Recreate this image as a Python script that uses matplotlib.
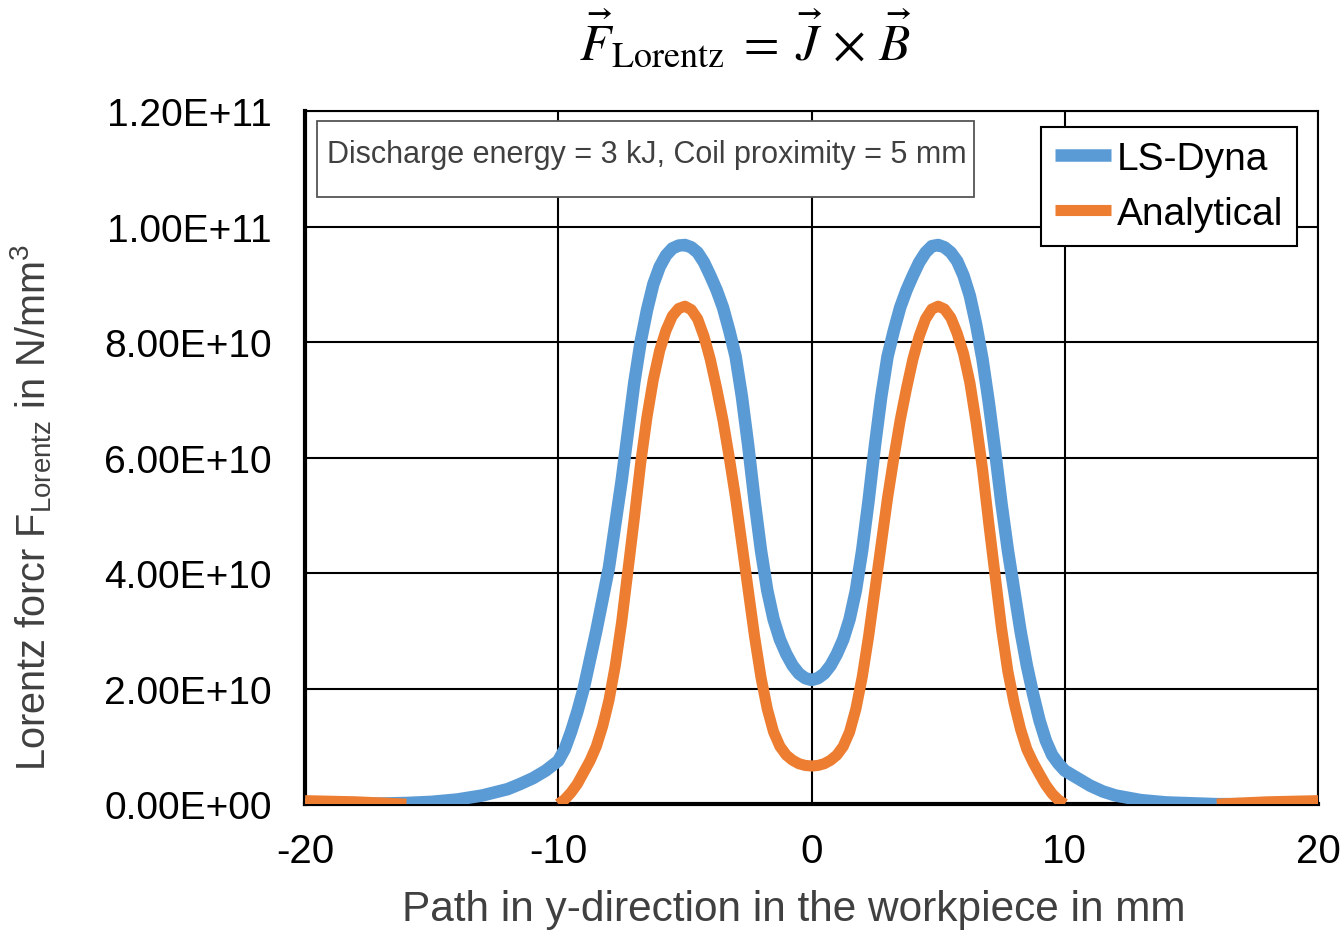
import numpy as np
import matplotlib
matplotlib.use("Agg")
import matplotlib.pyplot as plt
from matplotlib.patches import Rectangle
from matplotlib.ticker import FuncFormatter

plt.rcParams['font.family'] = ['Liberation Sans', 'DejaVu Sans']
plt.rcParams['axes.unicode_minus'] = False

# LS-Dyna curve, force in 1e10 N/mm^3
ls_x = [-20, -18, -16, -15, -14, -13, -12, -11.5, -11, -10.5, -10, -9.75, -9.5, -9.25, -9, -8.75,
        -8.5, -8.25, -8, -7.75, -7.5, -7.25, -7, -6.75, -6.5, -6.25, -6, -5.75, -5.5, -5.25, -5,
        -4.75, -4.5, -4.25, -4, -3.75, -3.5, -3.25, -3, -2.75, -2.5, -2.25, -2, -1.75, -1.5, -1.25,
        -1, -0.75, -0.5, -0.25, 0,
        0.25, 0.5, 0.75, 1, 1.25, 1.5, 1.75, 2, 2.25, 2.5, 2.75, 3, 3.25, 3.5, 3.75, 4, 4.25,
        4.5, 4.75, 5, 5.25, 5.5, 5.75, 6, 6.25, 6.5, 6.75, 7, 7.25, 7.5, 7.75, 8, 8.25, 8.5,
        8.75, 9, 9.25, 9.5, 9.75, 10, 10.5, 11, 11.5, 12, 13, 14, 16, 18, 20]
ls_y = [0.0, 0.0, 0.02, 0.04, 0.08, 0.15, 0.26, 0.35, 0.45, 0.58, 0.75, 0.95, 1.25, 1.6, 2.0, 2.5,
        3.0, 3.55, 4.1, 4.85, 5.6, 6.45, 7.3, 8.0, 8.55, 9.0, 9.3, 9.5, 9.62, 9.67, 9.68,
        9.64, 9.55, 9.38, 9.15, 8.9, 8.6, 8.2, 7.75, 7.05, 6.2, 5.25, 4.4, 3.7, 3.2, 2.85,
        2.6, 2.4, 2.26, 2.18, 2.15,
        2.18, 2.26, 2.4, 2.6, 2.85, 3.2, 3.7, 4.4, 5.25, 6.2, 7.05, 7.75, 8.2, 8.6, 8.9, 9.15, 9.38,
        9.55, 9.66, 9.68, 9.64, 9.55, 9.4, 9.15, 8.8, 8.3, 7.7, 6.95, 6.1, 5.2, 4.4, 3.7, 3.0, 2.4,
        1.9, 1.45, 1.1, 0.85, 0.7, 0.58, 0.45, 0.32, 0.22, 0.15, 0.07, 0.03, 0.0, 0.0, 0.0]

# Analytical curve (three pieces)
an_x_left = [-20, -19, -18, -17, -16]
an_y_left = [0.06, 0.05, 0.04, 0.02, 0.0]
an_x_mid = [-10, -9.75, -9.5, -9.25, -9, -8.75, -8.5, -8.25, -8, -7.75, -7.5, -7.25, -7, -6.75,
            -6.5, -6.25, -6, -5.75, -5.5, -5.25, -5, -4.75, -4.5, -4.25, -4, -3.75, -3.5, -3.25,
            -3, -2.75, -2.5, -2.25, -2, -1.75, -1.5, -1.25, -1, -0.75, -0.5, -0.25, 0,
            0.25, 0.5, 0.75, 1, 1.25, 1.5, 1.75, 2, 2.25, 2.5, 2.75, 3, 3.25, 3.5, 3.75, 4,
            4.25, 4.5, 4.75, 5, 5.25, 5.5, 5.75, 6, 6.25, 6.5, 6.75, 7, 7.25, 7.5, 7.75, 8,
            8.25, 8.5, 8.75, 9, 9.25, 9.5, 9.75, 10]
an_y_mid = [0.0, 0.08, 0.2, 0.35, 0.55, 0.75, 1.0, 1.35, 1.8, 2.4, 3.15, 4.05, 4.95, 5.9,
            6.7, 7.35, 7.85, 8.2, 8.45, 8.58, 8.62, 8.56, 8.4, 8.1, 7.7, 7.2, 6.65, 6.0,
            5.3, 4.5, 3.7, 2.9, 2.2, 1.65, 1.25, 1.0, 0.85, 0.76, 0.7, 0.67, 0.66,
            0.67, 0.7, 0.76, 0.85, 1.0, 1.25, 1.65, 2.2, 2.9, 3.7, 4.5, 5.3, 6.0, 6.65, 7.2, 7.7,
            8.1, 8.4, 8.57, 8.62, 8.57, 8.42, 8.15, 7.8, 7.3, 6.6, 5.8, 4.85, 3.95, 3.05, 2.3, 1.75,
            1.3, 0.95, 0.72, 0.52, 0.33, 0.18, 0.07, 0.0]
an_x_right = [16, 17, 18, 19, 20]
an_y_right = [0.0, 0.02, 0.04, 0.05, 0.06]

x_ticks = [-20, -10, 0, 10, 20]
y_ticks = [0, 2e10, 4e10, 6e10, 8e10, 1e11, 1.2e11]

blue = '#5B9BD5'
orange = '#ED7D31'
gray = '#404040'

fig = plt.figure(figsize=(13.44, 9.45), dpi=100)
ax = fig.add_axes([0.227, 0.148, 0.7537, 0.7335])

sc = 1e10
style = dict(solid_capstyle='butt', solid_joinstyle='round')
ax.plot(ls_x, np.array(ls_y) * sc, color=blue, lw=9, label='LS-Dyna', zorder=3, **style)
ax.plot(an_x_mid, np.array(an_y_mid) * sc, color=orange, lw=8, label='Analytical', zorder=4, **style)
ax.plot(an_x_left, np.array(an_y_left) * sc, color=orange, lw=8, zorder=4, **style)
ax.plot(an_x_right, np.array(an_y_right) * sc, color=orange, lw=8, zorder=4, **style)

ax.set_xlim(-20, 20)
ax.set_ylim(0, 1.2e11)
ax.set_xticks(x_ticks)
ax.set_yticks(y_ticks)
ax.yaxis.set_major_formatter(FuncFormatter(lambda v, p: '%.2E' % v))
ax.grid(True, color='black', lw=1.5, zorder=1)
ax.set_axisbelow(True)
ax.tick_params(length=0)
ax.tick_params(axis='x', labelsize=29, pad=20)
ax.tick_params(axis='y', labelsize=28, pad=24)

for s in ['left', 'bottom']:
    ax.spines[s].set_linewidth(3)
for s in ['top', 'right']:
    ax.spines[s].set_linewidth(1.5)

ax.set_xlabel('Path in y-direction in the workpiece in mm', fontsize=30.5, color=gray)
ax.xaxis.set_label_coords(0.482, -0.123)
ax.set_ylabel(r'Lorentz forcr F$_\mathregular{Lorentz}$ in N/mm$^\mathregular{3}$',
              fontsize=28.5, color=gray)
ax.yaxis.set_label_coords(-0.248, 0.43)

# info box
ax.add_patch(Rectangle((0.0118, 0.876), 0.649, 0.1096, transform=ax.transAxes,
                       facecolor='white', edgecolor='#555555', lw=1.3, zorder=5))
ax.text(0.0217, 0.938, 'Discharge energy = 3 kJ, Coil proximity = 5 mm', transform=ax.transAxes,
        fontsize=22, color=gray, va='center', ha='left', zorder=6)

leg = ax.legend(loc='upper right', bbox_to_anchor=(0.979, 0.977), borderaxespad=0,
                fontsize=28, fancybox=False, framealpha=1, edgecolor='black',
                handlelength=1.45, handletextpad=0.15, labelspacing=0.5, borderpad=0.35)
leg.get_frame().set_linewidth(1.5)
leg.set_zorder(6)

fig.text(0.555, 0.957, r'$\vec{F}_{\mathrm{Lorentz}}\;=\;\vec{J}\,\times\,\vec{B}$', fontsize=37,
         ha='center', va='center', math_fontfamily='stix')

fig.savefig('out.png', dpi=100, facecolor='white')
